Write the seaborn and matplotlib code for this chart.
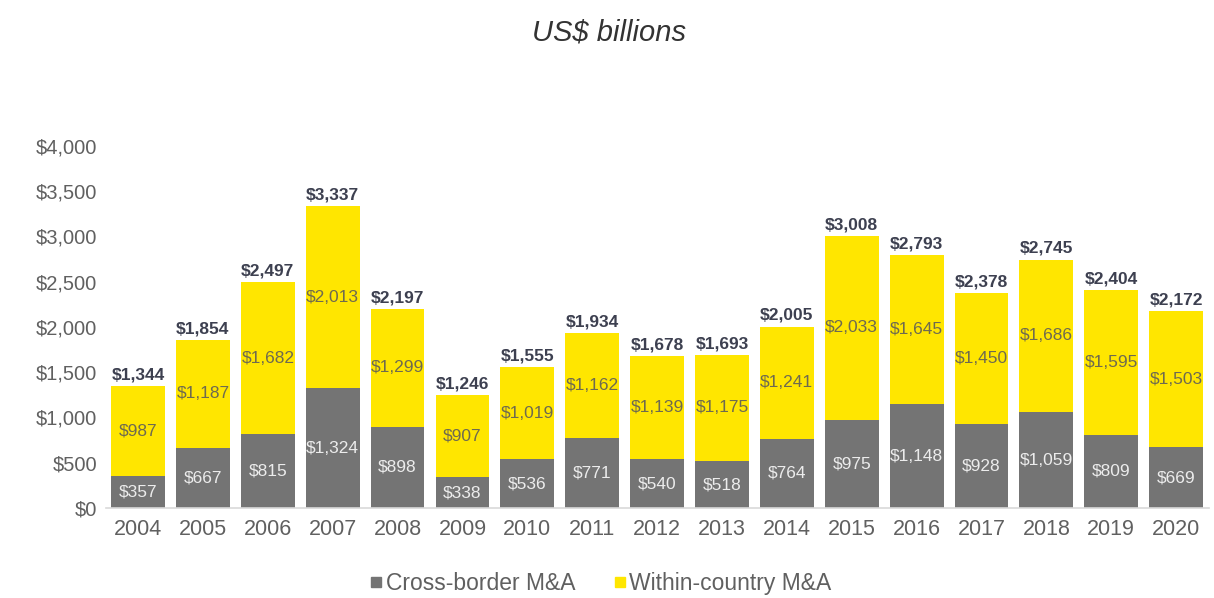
import matplotlib
matplotlib.use("Agg")
import matplotlib.pyplot as plt
from matplotlib.lines import Line2D
import seaborn as sns
import pandas as pd

years = ["2004", "2005", "2006", "2007", "2008", "2009", "2010", "2011", "2012",
         "2013", "2014", "2015", "2016", "2017", "2018", "2019", "2020"]
cross_border = [357, 667, 815, 1324, 898, 338, 536, 771, 540, 518, 764, 975, 1148,
                928, 1059, 809, 669]
within_country = [987, 1187, 1682, 2013, 1299, 907, 1019, 1162, 1139, 1175, 1241,
                  2033, 1645, 1450, 1686, 1595, 1503]
totals = [1344, 1854, 2497, 3337, 2197, 1246, 1555, 1934, 1678, 1693, 2005, 3008,
          2793, 2378, 2745, 2404, 2172]
y_ticks = [0, 500, 1000, 1500, 2000, 2500, 3000, 3500, 4000]

GRAY = "#747474"
YELLOW = "#FFE600"
TEXT = "#606060"

sns.set_theme(style="white")
plt.rcParams["font.family"] = ["Liberation Sans", "DejaVu Sans"]

df = pd.DataFrame({"year": years, "cross": cross_border,
                   "within": within_country, "total": totals})

fig = plt.figure(figsize=(12.14, 5.98), dpi=100)
ax = fig.add_axes([0.087, 0.1505, 0.9085, 0.6055])

# stacked columns: full stack in yellow, cross-border portion in gray over it
sns.barplot(data=df, x="year", y="total", color=YELLOW, width=0.83,
            saturation=1, ax=ax, order=years, linewidth=0, edgecolor="none")
sns.barplot(data=df, x="year", y="cross", color=GRAY, width=0.83,
            saturation=1, ax=ax, order=years, linewidth=0, edgecolor="none")

for i, (c, w, t) in enumerate(zip(cross_border, within_country, totals)):
    ax.text(i, c / 2, f"${c:,}", ha="center", va="center",
            fontsize=12.5, color="#ececec")
    ax.text(i, c + w / 2, f"${w:,}", ha="center", va="center",
            fontsize=12.5, color="#6e6a50")
    ax.text(i, t + 40, f"${t:,}", ha="center", va="bottom",
            fontsize=12.5, fontweight="bold", color="#3d4050")

ax.set_xlim(-0.5, len(years) - 0.5)
ax.set_ylim(0, 4000)
ax.set_yticks(y_ticks)
ax.set_yticklabels([f"${v:,}" for v in y_ticks])
ax.set_xlabel("")
ax.set_ylabel("")
ax.tick_params(axis="y", labelsize=14.5, labelcolor=TEXT, length=0, pad=6)
ax.tick_params(axis="x", labelsize=15.5, labelcolor=TEXT, length=0, pad=8)

for side in ("top", "right", "left"):
    ax.spines[side].set_visible(False)
ax.spines["bottom"].set_color("#d9d9d9")
ax.spines["bottom"].set_linewidth(1.2)

fig.text(0.502, 0.945, "US$ billions", ha="center", va="center",
         fontsize=21, style="italic", color="#333333")

handles = [
    Line2D([], [], marker="s", linestyle="none", markersize=7,
           markerfacecolor=GRAY, markeredgecolor=GRAY, label="Cross-border M&A"),
    Line2D([], [], marker="s", linestyle="none", markersize=7,
           markerfacecolor=YELLOW, markeredgecolor=YELLOW, label="Within-country M&A"),
]
fig.legend(handles=handles, loc="center", bbox_to_anchor=(0.494, 0.024), ncol=2,
           frameon=False, fontsize=16.5, labelcolor=TEXT, handletextpad=0.05,
           columnspacing=1.6, handlelength=0.7)

fig.savefig("out.png", dpi=100)
